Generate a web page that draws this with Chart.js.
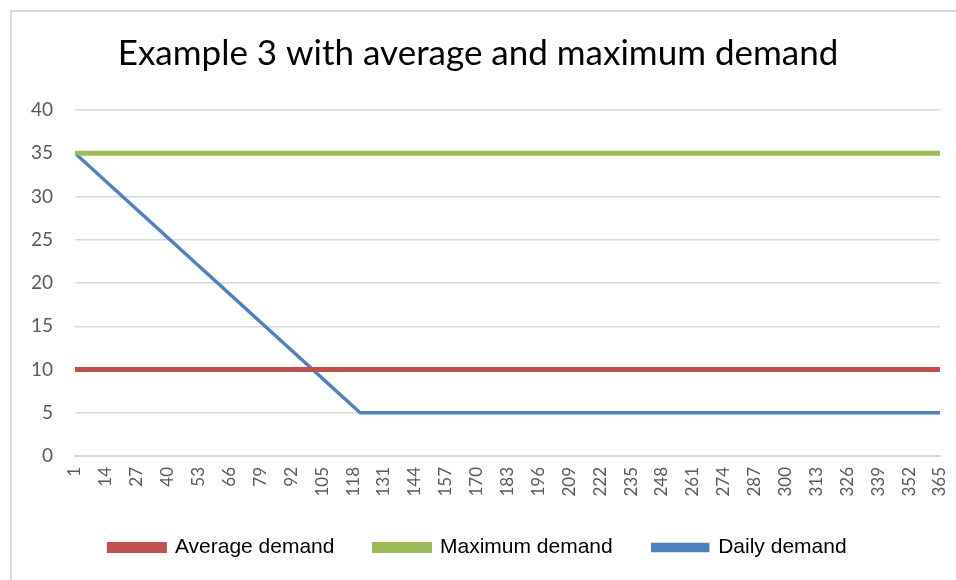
<!DOCTYPE html>
<html>
<head>
<meta charset="utf-8">
<script src="https://cdn.jsdelivr.net/npm/chart.js@4"></script>
<style>
  body { margin: 0; background: #fff; }
  #wrap { position: relative; width: 956px; height: 580px; overflow: hidden; }
  #frame { position: absolute; left: 10px; top: 10px; width: 960px; height: 600px; border: 2px solid #d9d9d9; }
  canvas { position: absolute; left: 0; top: 0; }
</style>
</head>
<body>
<div id="wrap">
  <div id="frame"></div>
  <canvas id="chart" width="956" height="580"></canvas>
</div>
<script>
const keyDays = [1, 121, 365];
const averageDemand = [10, 10, 10];
const maximumDemand = [35, 35, 35];
const dailyDemand = [35, 5, 5];
const xTickLabels = [1,14,27,40,53,66,79,92,105,118,131,144,157,170,183,196,209,222,235,248,261,274,287,300,313,326,339,352,365];

const toPoints = vals => keyDays.map((d, i) => ({ x: d, y: vals[i] }));

const ctx = document.getElementById('chart').getContext('2d');
const myChart = new Chart(ctx, {
    type: 'line',
    data: {
        datasets: [
            {
                label: 'Average demand',
                data: toPoints(averageDemand),
                borderColor: '#C0504D',
                backgroundColor: '#C0504D',
                borderWidth: 5,
                pointRadius: 0
            },
            {
                label: 'Maximum demand',
                data: toPoints(maximumDemand),
                borderColor: '#9BBB59',
                backgroundColor: '#9BBB59',
                borderWidth: 5,
                pointRadius: 0
            },
            {
                label: 'Daily demand',
                data: toPoints(dailyDemand),
                borderColor: '#4F81BD',
                backgroundColor: '#4F81BD',
                borderWidth: 3.5,
                pointRadius: 0
            }
        ]
    },
    options: {
        responsive: false,
        animation: false,
        layout: { padding: { top: 33, left: 0, right: 0, bottom: 12 } },
        plugins: {
            tooltip: { enabled: false },
            title: {
                display: true,
                text: 'Example 3 with average and maximum demand',
                color: '#000',
                font: { family: 'Lato', size: 35, weight: 'normal' },
                padding: { top: 0, bottom: 35 }
            },
            legend: {
                position: 'bottom',
                labels: {
                    boxWidth: 55,
                    boxHeight: 6,
                    padding: 40,
                    color: '#000',
                    font: { family: 'Liberation Sans', size: 21 }
                }
            }
        },
        scales: {
            x: {
                type: 'linear',
                min: 1,
                max: 365,
                afterBuildTicks: scale => { scale.ticks = xTickLabels.map(v => ({ value: v })); },
                afterFit: scale => { scale.height = 41; scale.paddingRight = 16; },
                grid: { display: false },
                border: { display: true, color: '#d9d9d9', width: 2 },
                ticks: {
                    autoSkip: false,
                    minRotation: 90,
                    maxRotation: 90,
                    color: '#595959',
                    font: { family: 'Lato', size: 17 },
                    callback: v => v
                }
            },
            y: {
                min: 0,
                max: 40,
                afterFit: scale => { scale.width = 75; },
                grid: { color: '#d9d9d9', lineWidth: 1.5, drawTicks: false },
                border: { display: false },
                ticks: {
                    stepSize: 5,
                    padding: 22,
                    color: '#595959',
                    font: { family: 'Lato', size: 19 }
                }
            }
        }
    }
});
</script>
</body>
</html>
